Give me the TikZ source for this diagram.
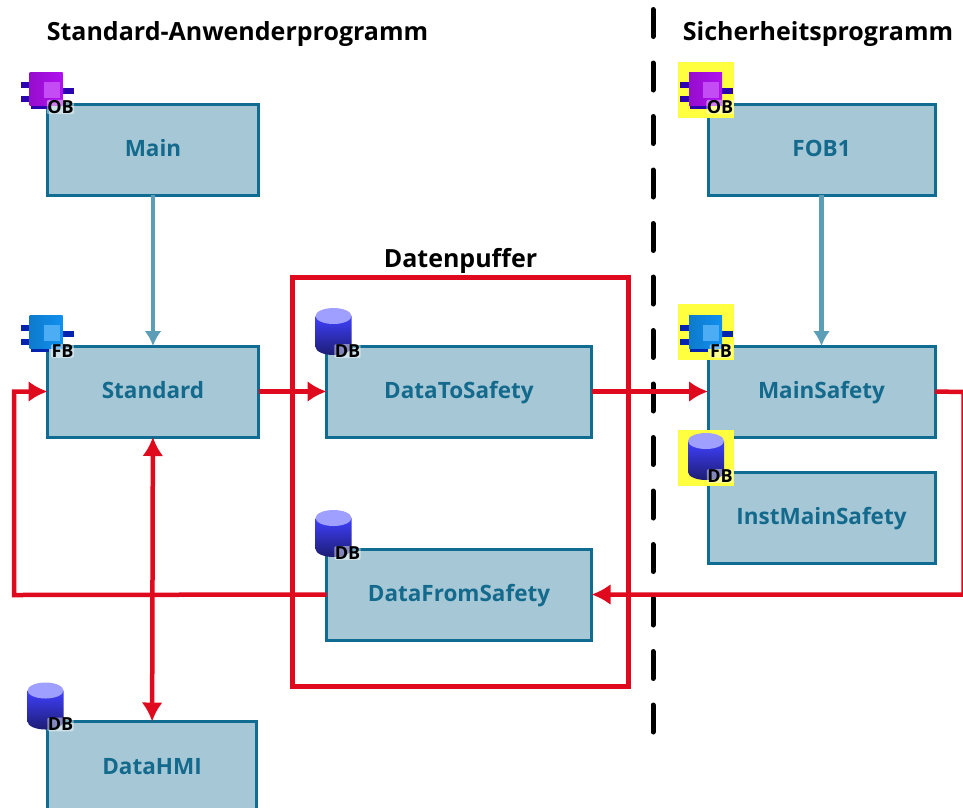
\documentclass[tikz,border=0pt]{standalone}
\usepackage{fontspec}
\setmainfont{Open Sans}
\usepackage{tikz}
\usetikzlibrary{arrows.meta, positioning}

\definecolor{boxfill}{HTML}{A6C7D6}
\definecolor{boxline}{HTML}{106C90}
\definecolor{boxtext}{HTML}{146A8C}
\definecolor{callblue}{HTML}{5C9DB8}
\definecolor{flowred}{HTML}{DF0A1E}
\definecolor{markyellow}{HTML}{FFFF40}
\definecolor{obviolet}{HTML}{B010F0}
\definecolor{fbblue}{HTML}{1090F0}
\colorlet{dbtop}{blue!75!white}

\tikzset{
  % block icon, used for OB and FB
  blockicon/.pic={
    \fill[#1!35!blue!70!black] (1,27) rectangle (19,37);
    \fill[#1!35!blue!70!black] (-9,10) rectangle (2,16);
    \fill[#1!35!blue!70!black] (-9,24) rectangle (2,30);
    \fill[#1!35!blue!70!black] (30,16) rectangle (44,22);
    \shade[left color=#1!85!black, right color=#1] (0,0) rectangle (33,33);
    \fill[#1!75!white] (14,10) rectangle (30,26);
  },
  dbicon/.pic={
    \shade[top color=dbtop, bottom color=dbtop!45!black]
      (0,8) -- (0,39) arc[start angle=180, end angle=0, x radius=18, y radius=8] -- (36,8) -- cycle;
    \fill[dbtop!50!white] (18,8) ellipse[x radius=18, y radius=8];
  },
}

\begin{document}
\begin{tikzpicture}[
  x=1pt, y=-1pt,
  >=Latex,
  font=\fontsize{22.5}{26}\selectfont\bfseries,
  block/.style={
    rectangle, draw=boxline, fill=boxfill,
    line width=3pt, outer sep=0pt,
    text=boxtext, minimum height=91pt,
    text height=18pt, text depth=4pt,
  },
  wideblock/.style={block, minimum width=211pt},
  midblock/.style={block, minimum width=265pt},
  safeblock/.style={block, minimum width=227pt},
  caption/.style={text=black, inner sep=0pt, font=\fontsize{25}{28}\selectfont\bfseries},
  tag/.style={text=black, inner sep=0.5pt, font=\fontsize{18}{18}\selectfont\bfseries,
    fill=white, fill opacity=0.45, text opacity=1, rounded corners=2pt},
  marker/.style={fill=markyellow, minimum size=56pt, inner sep=0pt, outer sep=0pt},
  redflow/.style={draw=flowred, line width=4.5pt, -{Latex[length=19pt, width=21pt]}},
  callflow/.style={draw=callblue, line width=4.5pt, -{Latex[length=15pt, width=17pt]}},
]
\useasboundingbox (0,0) rectangle (963,807);

% --- Standard side ---
\node[wideblock] (MAIN) at (153,149.5) {Main};
\node[wideblock, below=151pt of MAIN] (STD) {Standard};
\node[block, minimum width=209pt] (HMI) at (152,767) {DataHMI};

% --- Buffer ---
\node[midblock, right=68pt of STD] (TOSAFE) {DataToSafety};
\node[midblock, below=112pt of TOSAFE] (FROMSAFE) {DataFromSafety};
\node[draw=flowred, line width=4.5pt, minimum width=336pt, minimum height=409pt, outer sep=0pt] (BUFFER) at (460.5,482) {};

% --- Safety side ---
\node[safeblock] (FOB) at (821.5,149.5) {FOB1};
\node[safeblock, below=151pt of FOB] (SAFE) {MainSafety};
\node[safeblock, below=35pt of SAFE] (INST) {InstMainSafety};

% --- Captions ---
\node[caption] (TSTD) at (237.5,34) {Standard-Anwenderprogramm};
\node[caption] (TSAFE) at (818,34) {Sicherheitsprogramm};
\node[caption, above=4pt of BUFFER] (TBUF) {Datenpuffer};

% --- Yellow marks ---
\node[marker] (MFOB) at (706,90) {};
\node[marker] (MSAFE) at (706,332) {};
\node[marker] (MINST) at (706,458) {};

% --- Icons ---
\pic (OBA) at ([shift={(-18,-32)}]MAIN.north west) {blockicon=obviolet};
\node[tag] (OBAT) at ([shift={(13,3)}]MAIN.north west) {OB};
\pic (FBA) at ([shift={(-18,-31)}]STD.north west) {blockicon=fbblue};
\node[tag] (FBAT) at ([shift={(15,5)}]STD.north west) {FB};
\pic (OBB) at ([shift={(-19,-32)}]FOB.north west) {blockicon=obviolet};
\node[tag] (OBBT) at ([shift={(12,3)}]FOB.north west) {OB};
\pic (FBB) at ([shift={(-19,-31)}]SAFE.north west) {blockicon=fbblue};
\node[tag] (FBBT) at ([shift={(13,5)}]SAFE.north west) {FB};
\pic (DBA) at ([shift={(-11,-38)}]TOSAFE.north west) {dbicon};
\node[tag] (DBAT) at ([shift={(21,5)}]TOSAFE.north west) {DB};
\pic (DBB) at ([shift={(-11,-39)}]FROMSAFE.north west) {dbicon};
\node[tag] (DBBT) at ([shift={(21,4)}]FROMSAFE.north west) {DB};
\pic (DBC) at ([shift={(-20,-39)}]HMI.north west) {dbicon};
\node[tag] (DBCT) at ([shift={(13,3)}]HMI.north west) {DB};
\pic (DBD) at ([shift={(-20,-39)}]INST.north west) {dbicon};
\node[tag] (DBDT) at ([shift={(12,4)}]INST.north west) {DB};

% --- Separator ---
\coordinate (SEPTOP) at (653,9.5);
\coordinate (SEPBOT) at (653,732);
\draw[line width=5pt, line cap=round, dash pattern=on 27pt off 26.5pt] (SEPTOP) -- (SEPBOT);

% --- Arrows ---
\draw[callflow] (MAIN) -- (STD);
\draw[callflow] (FOB) -- (SAFE);

\coordinate (LEFTBEND) at (14,595);
\coordinate (RIGHTBEND) at (963.5,392);
\draw[redflow] (STD) -- (TOSAFE.west);
\draw[redflow] (TOSAFE.east) -- (SAFE.west);
\draw[redflow] (FROMSAFE.west) -- (LEFTBEND) |- (STD.west);
\draw[redflow] (SAFE.east) -- (RIGHTBEND) |- (FROMSAFE.east);
\draw[redflow, {Latex[length=19pt, width=21pt]}-{Latex[length=19pt, width=21pt]}] (STD) -- (HMI);

\end{tikzpicture}
\end{document}
